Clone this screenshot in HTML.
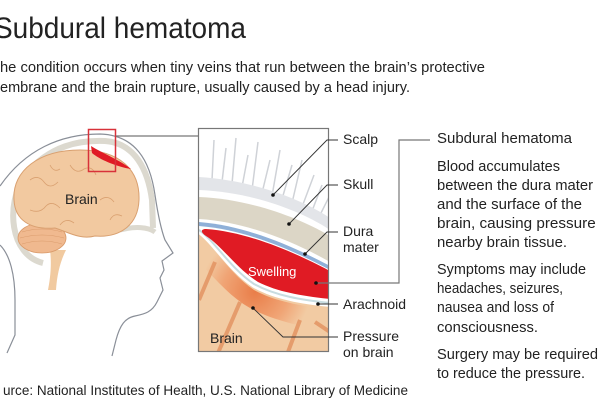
<!DOCTYPE html>
<html><head><meta charset="utf-8"><style>
html,body{margin:0;padding:0;background:#fff;width:600px;height:400px;overflow:hidden}
svg{display:block}
text{font-family:"Liberation Sans",sans-serif;fill:#222}
</style></head><body>
<svg width="600" height="400" viewBox="0 0 600 400">
<defs>
<radialGradient id="pg" cx="255" cy="292" r="55" gradientUnits="userSpaceOnUse">
<stop offset="0" stop-color="#e8753f"/><stop offset="0.6" stop-color="#f0a070"/><stop offset="1" stop-color="#f2cba3"/></radialGradient>
<clipPath id="pc"><rect x="199" y="129" width="129" height="222"/></clipPath>
</defs>
<text x="-6" y="38" font-size="30" textLength="252" lengthAdjust="spacingAndGlyphs">Subdural hematoma</text>
<text x="0" y="72" font-size="15" textLength="485" lengthAdjust="spacingAndGlyphs">he condition occurs when tiny veins that run between the brain’s protective</text>
<text x="0" y="92" font-size="15" textLength="410" lengthAdjust="spacingAndGlyphs">embrane and the brain rupture, usually caused by a head injury.</text>

<!-- head -->
<path d="M0,186 C25,150 60,134 100,134 C135,135 150,160 155,195 C158,215 162,232 165,240 L173,253 L162,261 L164,270 L160,278 L163,290 L157,302 C152,312 145,314 135,316 C125,318 120,325 116,340 L112,356" fill="none" stroke="#8a8f98" stroke-width="1.2"/>
<path d="M0,245 C10,255 15,275 15,300 L15,335 L7,353" fill="none" stroke="#8a8f98" stroke-width="1.2"/>
<path d="M43,263 C10,255 5,205 25,175 C50,145 80,140 105,141 C135,143 148,170 152,200 L153,228" fill="none" stroke="#dcd9cf" stroke-width="6"/>
<path d="M120,230 C135,226 148,227 155,232" fill="none" stroke="#dcd9cf" stroke-width="5"/>
<path d="M50,250 C52,265 50,280 48,290 L56,290 C57,275 60,262 66,250 Z" fill="#f1caa0"/>
<ellipse cx="42" cy="238" rx="24" ry="15" fill="#f0b98f" stroke="#d99a6a" stroke-width="0.8"/>
<path d="M22,232 Q42,226 62,232 M20,238 Q42,232 64,238 M22,244 Q42,238 62,244" stroke="#d99a6a" stroke-width="0.6" fill="none"/>
<path d="M14,200 C12,170 40,150 80,150 C120,150 140,170 139,200 C138,225 120,238 95,236 C80,240 68,232 55,228 C30,230 15,220 14,200 Z" fill="#f2c9a0" stroke="#d9a070" stroke-width="1"/>
<path d="M30,180 q8,-6 14,2 q6,8 14,0 M70,165 q6,10 14,4 q8,-4 12,6 M100,200 q8,-6 14,2 M30,210 q10,4 16,-4 q6,-6 14,2 M60,225 q6,-8 14,-2 M110,220 q4,-8 12,-4 M50,165 q4,8 10,4" stroke="#d9a070" stroke-width="0.8" fill="none"/>
<text x="65" y="204" font-size="14">Brain</text>
<path d="M91,146 C100,152 120,160 131,169 C118,167 100,160 92,153 Z" fill="#e01b24"/>
<rect x="88.5" y="129.5" width="27" height="42" fill="none" stroke="#d8323a" stroke-width="1.5"/>
<line x1="116" y1="136" x2="199" y2="136" stroke="#777" stroke-width="1.2"/>

<!-- panel -->
<g clip-path="url(#pc)">
<rect x="199" y="129" width="129" height="222" fill="#fff"/>
<g stroke="#cfd2d7" stroke-width="1.5">
<line x1="212" y1="180" x2="214" y2="140"/><line x1="222" y1="182" x2="226" y2="148"/><line x1="232" y1="184" x2="236" y2="138"/><line x1="242" y1="187" x2="248" y2="155"/><line x1="252" y1="190" x2="258" y2="142"/><line x1="262" y1="193" x2="270" y2="160"/><line x1="272" y1="196" x2="280" y2="150"/><line x1="282" y1="199" x2="292" y2="165"/><line x1="292" y1="203" x2="302" y2="160"/><line x1="302" y1="207" x2="314" y2="175"/><line x1="312" y1="211" x2="322" y2="185"/><line x1="320" y1="215" x2="330" y2="195"/>
</g>
<path d="M199,177 C250,180 300,198 330,218 L330,360 L199,360 Z" fill="#e3e5e9"/>
<path d="M199,190 C250,192 300,210 330,230 L330,360 L199,360 Z" fill="#fff"/>
<path d="M199,197 C250,199 300,218 330,236 L330,360 L199,360 Z" fill="#dcd6c6"/>
<path d="M199,219 C250,222 300,245 330,262 L330,360 L199,360 Z" fill="#fff"/>
<path d="M199,222 C250,226 300,250 330,266 L330,360 L199,360 Z" fill="#8fb0d8"/>
<path d="M199,226 C250,230 300,254 330,270 L330,360 L199,360 Z" fill="#fff"/>
<!-- brain area -->
<path d="M199,234 C214,244 230,272 254,288 C276,300 302,304 330,307 L330,360 L199,360 Z" fill="#f2cba3"/>
<path d="M199,236 C214,246 230,274 254,290 C276,302 302,306 330,309 L330,332 C300,326 272,320 250,308 C232,298 218,282 199,262 Z" fill="url(#pg)" opacity="0.9"/>
<g stroke="#e3915f" stroke-width="4" fill="none" opacity="0.8">
<path d="M215,262 L199,300"/><path d="M240,302 L215,360"/><path d="M300,320 L285,360"/><path d="M315,322 L330,332"/>
</g>
<!-- arachnoid -->
<path d="M199,230 C214,240 230,268 254,284 C276,296 302,300 330,303" fill="none" stroke="#fff" stroke-width="7"/>
<path d="M199,230 C214,240 230,268 254,284 C276,296 302,300 330,303" fill="none" stroke="#c8dce0" stroke-width="2"/>
<!-- swelling -->
<path d="M206,229 C250,232 300,255 330,271 L330,299 C302,296 278,292 258,282 C236,268 222,246 206,236 C200,232 201,229 206,229 Z" fill="#e01b24"/>
<text x="248" y="276" font-size="13" style="fill:#fff">Swelling</text>
<text x="210" y="343" font-size="14">Brain</text>
</g>
<rect x="198.5" y="128.5" width="130" height="223" fill="none" stroke="#777" stroke-width="1.2"/>

<g stroke="#333" stroke-width="0.9" fill="none">
<polyline points="273,195 327,140 338,140"/>
<polyline points="289,224 327,185 338,185"/>
<polyline points="305,254 327,232 338,232"/>
<polyline points="318,304 338,304"/>
<polyline points="253,308 283,337 338,337"/>
</g>
<polyline points="316,283 399,283 399,140 430,140" fill="none" stroke="#777" stroke-width="1.2"/>
<g fill="#111">
<circle cx="273" cy="195" r="1.8"/><circle cx="289" cy="224" r="1.8"/><circle cx="305" cy="254" r="1.8"/><circle cx="318" cy="304" r="1.8"/><circle cx="253" cy="308" r="1.8"/><circle cx="316" cy="283" r="1.8"/>
</g>
<g font-size="14">
<text x="343" y="144">Scalp</text>
<text x="343" y="189">Skull</text>
<text x="343" y="236">Dura</text>
<text x="343" y="252">mater</text>
<text x="343" y="309">Arachnoid</text>
<text x="343" y="341">Pressure</text>
<text x="343" y="357">on brain</text>
</g>
<g font-size="14.5">
<text x="437" y="143" textLength="135" lengthAdjust="spacingAndGlyphs">Subdural hematoma</text>
<text x="437" y="171" textLength="123" lengthAdjust="spacingAndGlyphs">Blood accumulates</text>
<text x="437" y="190" textLength="156" lengthAdjust="spacingAndGlyphs">between the dura mater</text>
<text x="437" y="209" textLength="145" lengthAdjust="spacingAndGlyphs">and the surface of the</text>
<text x="437" y="228" textLength="180" lengthAdjust="spacingAndGlyphs">brain, causing pressure on</text>
<text x="437" y="247" textLength="130" lengthAdjust="spacingAndGlyphs">nearby brain tissue.</text>
<text x="437" y="274" textLength="149" lengthAdjust="spacingAndGlyphs">Symptoms may include</text>
<text x="437" y="293" textLength="126" lengthAdjust="spacingAndGlyphs">headaches, seizures,</text>
<text x="437" y="312" textLength="117" lengthAdjust="spacingAndGlyphs">nausea and loss of</text>
<text x="437" y="332" textLength="101" lengthAdjust="spacingAndGlyphs">consciousness.</text>
<text x="437" y="359" textLength="161" lengthAdjust="spacingAndGlyphs">Surgery may be required</text>
<text x="437" y="378" textLength="148" lengthAdjust="spacingAndGlyphs">to reduce the pressure.</text>
</g>
<text x="3" y="395" font-size="14" textLength="405" lengthAdjust="spacingAndGlyphs">urce: National Institutes of Health, U.S. National Library of Medicine</text>
</svg>
</body></html>
